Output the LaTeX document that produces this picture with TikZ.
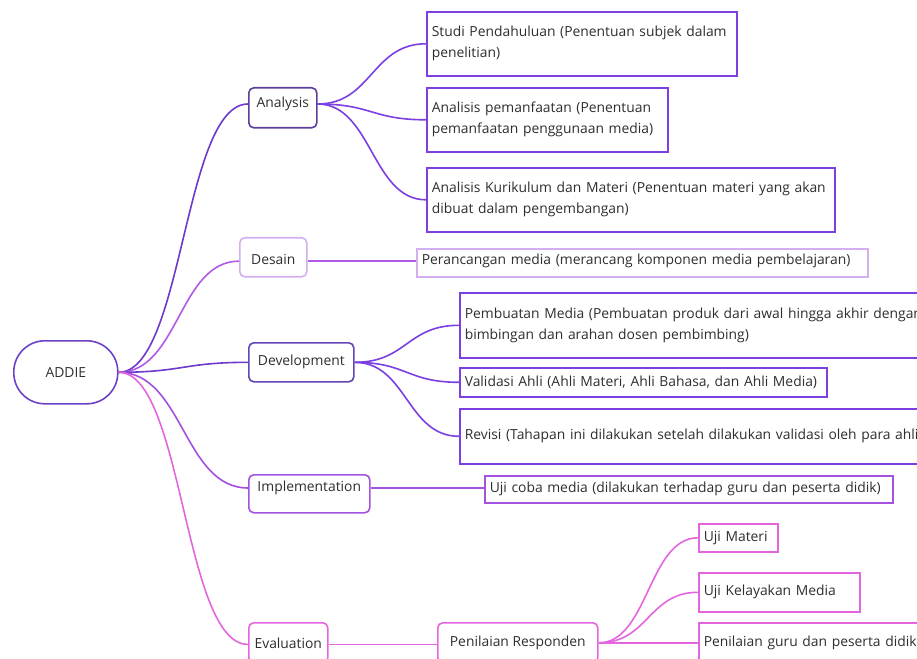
\documentclass[tikz,border=0pt]{standalone}
\usepackage{fontspec}
\setmainfont{Open Sans}
\usetikzlibrary{calc}

\definecolor{textC}{HTML}{2E2E2E}
\definecolor{addieC}{HTML}{6B42C8}
\definecolor{anaC}{HTML}{5E3D9E}
\definecolor{devC}{HTML}{6445B5}
\definecolor{violetC}{HTML}{7B3FE2}
\definecolor{desLine}{HTML}{B05AE6}
\definecolor{desC}{HTML}{D3AEF0}
\definecolor{impC}{HTML}{A552E0}
\definecolor{evaC}{HTML}{E466DE}

\newlength{\pxu}\setlength{\pxu}{0.75pt}

\begin{document}
\begin{tikzpicture}[
        x=0.75pt, y=-0.75pt,
        every node/.style={font=\fontsize{10.4}{15.8}\selectfont, text=textC},
        topic/.style={rectangle, draw, rounded corners=5\pxu, line width=1.6\pxu, anchor=north west, inner sep=0pt},
        leaf/.style={rectangle, draw, line width=1.6\pxu, anchor=north west, align=left, inner xsep=5\pxu, inner ysep=0pt},
        link/.style={line width=1.6\pxu, to path={let \p1=(\tikztostart), \p2=(\tikztotarget) in
            .. controls ({(\x1+\x2)/2},\y1) and ({(\x1+\x2)/2},\y2) .. (\tikztotarget) \tikztonodes}},
        line/.style={line width=1.6\pxu},
        ]
        \useasboundingbox (0,0) rectangle (917,659);
        \clip (0,0) rectangle (917,659);

        % Nodes
        \node[topic, draw=addieC, rounded corners=31\pxu, minimum width=104\pxu, minimum height=63\pxu] (Addie) at (13,340) {ADDIE};
        \node[topic, draw=anaC, minimum width=68\pxu, minimum height=40\pxu, text depth=11\pxu] (Analysis) at (248,87) {Analysis};
        \node[topic, draw=desC, minimum width=67\pxu, minimum height=39\pxu, text height=15\pxu] (Desain) at (239,237) {Desain};
        \node[topic, draw=devC, minimum width=105\pxu, minimum height=39\pxu] (Development) at (248,342) {Development};
        \node[topic, draw=impC, minimum width=121\pxu, minimum height=38\pxu, text depth=15\pxu] (Implementation) at (248,474) {Implementation};
        \node[topic, draw=evaC, minimum width=79\pxu, minimum height=40\pxu] (Evaluation) at (248,622) {Evaluation};

        \node[leaf, draw=violetC, text width=300\pxu, minimum height=64\pxu] (StudiPendahuluan) at (426,11) {Studi Pendahuluan (Penentuan subjek dalam\\penelitian)};
        \node[leaf, draw=violetC, text width=231\pxu, minimum height=64\pxu] (AnalisisPemanfaatan) at (426,87) {Analisis pemanfaatan (Penentuan\\pemanfaatan penggunaan media)};
        \node[leaf, draw=violetC, text width=398\pxu, minimum height=64\pxu] (AnalisisKurikulum) at (426,167) {Analisis Kurikulum dan Materi (Penentuan materi yang akan\\dibuat dalam pengembangan)};
        \node[leaf, draw=desC, text width=441\pxu, minimum height=28\pxu, text depth=8\pxu] (Perancangan) at (416,248) {Perancangan media (merancang komponen media pembelajaran)};
        \node[leaf, draw=violetC, text width=470\pxu, minimum height=65\pxu] (PembuatanMedia) at (459,292) {Pembuatan Media (Pembuatan produk dari awal hingga akhir dengan\\bimbingan dan arahan dosen pembimbing)};
        \node[leaf, draw=violetC, text width=357\pxu, minimum height=29\pxu] (ValidasiAhli) at (459,367) {Validasi Ahli (Ahli Materi, Ahli Bahasa, dan Ahli Media)};
        \node[leaf, draw=violetC, text width=470\pxu, minimum height=55\pxu] (Revisi) at (459,408) {Revisi (Tahapan ini dilakukan setelah dilakukan validasi oleh para ahli)};
        \node[leaf, draw=impC, text width=398\pxu, minimum height=27\pxu] (UjiCoba) at (484,475) {Uji coba media (dilakukan terhadap guru dan peserta didik)};
        \node[topic, draw=evaC, minimum width=160\pxu, minimum height=40\pxu] (PenilaianResponden) at (437,622) {Penilaian Responden};
        \node[leaf, draw=evaC, text width=69\pxu, minimum height=28\pxu] (UjiMateri) at (698,523) {Uji Materi};
        \node[leaf, draw=evaC, text width=151\pxu, minimum height=39\pxu] (UjiKelayakan) at (698,572) {Uji Kelayakan Media};
        \node[leaf, draw=evaC, text width=240\pxu, minimum height=40\pxu] (PenilaianGuru) at (698,622) {Penilaian guru dan peserta didik};

        % Branches
        \draw[link, draw=violetC!90!black] (Addie.east) to (Analysis.mid west);
        \draw[link, draw=desLine] (Addie.east) to (Desain.mid west);
        \draw[link, draw=violetC!90!black] (Addie.east) to (Development.mid west);
        \draw[link, draw=impC!90!violetC] (Addie.east) to (Implementation.mid west);
        \draw[link, draw=evaC] (Addie.east) to (Evaluation.mid west);

        \draw[link, draw=violetC] (Analysis.mid east) to (StudiPendahuluan.west);
        \draw[link, draw=violetC] (Analysis.mid east) to (AnalisisPemanfaatan.west);
        \draw[link, draw=violetC] (Analysis.mid east) to (AnalisisKurikulum.west);
        \draw[line, draw=desLine] (Desain.mid east) -- (Desain.mid east -| Perancangan.west);
        \draw[link, draw=violetC] (Development.mid east) to (PembuatanMedia.west);
        \draw[link, draw=violetC] (Development.mid east) to (ValidasiAhli.west);
        \draw[link, draw=violetC] (Development.mid east) to (Revisi.west);
        \draw[line, draw=impC] (Implementation.mid east) -- (Implementation.mid east -| UjiCoba.west);
        \draw[line, draw=evaC] (Evaluation.mid east) -- (Evaluation.mid east -| PenilaianResponden.west);
        \draw[link, draw=evaC] (PenilaianResponden.mid east) to (UjiMateri.west);
        \draw[link, draw=evaC] (PenilaianResponden.mid east) to (UjiKelayakan.west);
        \draw[line, draw=evaC] (PenilaianResponden.mid east) -- (PenilaianResponden.mid east -| PenilaianGuru.west);

    \end{tikzpicture}
\end{document}
